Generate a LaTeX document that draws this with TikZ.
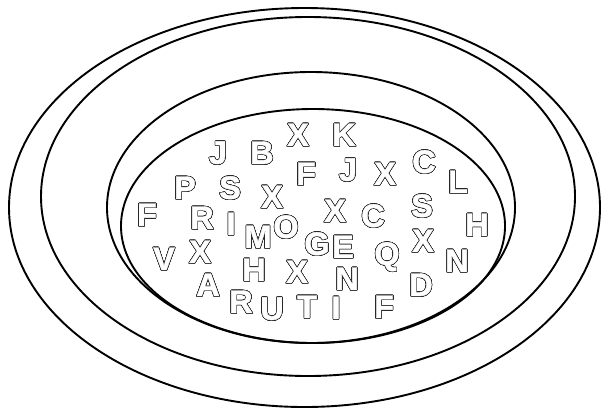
\documentclass[tikz,border=0pt]{standalone}
\usepackage{fontspec}
\setmainfont{Liberation Sans}[BoldFeatures={FakeBold=1.2}]
\usepackage{contour}
\contourlength{0.6pt}
\contournumber{20}
\newcommand\olet[1]{\contour{black!85}{\textcolor{white}{#1}}}
\begin{document}
\begin{tikzpicture}[x=1pt,y=-1pt,
  ring/.style={draw=black,line width=1.9pt},
  lt/.style={font=\fontsize{32.5}{32.5}\selectfont\bfseries, inner sep=0pt}]
\useasboundingbox (0,0) rectangle (601,410);
\draw[ring] (304.5,207.5) ellipse [x radius=295.5pt, y radius=199.5pt];
\draw[ring] (308,196.5) ellipse [x radius=267pt, y radius=179.5pt];
\draw[ring] (311,207.5) ellipse [x radius=204pt, y radius=135.5pt];
\draw[ring] (313,226) ellipse [x radius=192pt, y radius=117pt];
\node[lt] (l01) at (218,153) {\olet{J}};
\node[lt] (l02) at (262,153) {\olet{B}};
\node[lt] (l03) at (298,135) {\olet{X}};
\node[lt] (l04) at (344,135) {\olet{K}};
\node[lt] (l05) at (185,188) {\olet{P}};
\node[lt] (l06) at (230,188) {\olet{S}};
\node[lt] (l07) at (272,197) {\olet{X}};
\node[lt] (l08) at (147,215) {\olet{F}};
\node[lt] (l09) at (202,218) {\olet{R}};
\node[lt] (l10) at (231,224) {\olet{I}};
\node[lt] (l11) at (258,237) {\olet{M}};
\node[lt] (l12) at (286,227) {\olet{O}};
\node[lt] (l13) at (317,244) {\olet{G}};
\node[lt] (l14) at (343,247) {\olet{E}};
\node[lt] (l15) at (335,211) {\olet{X}};
\node[lt] (l16) at (373,216) {\olet{C}};
\node[lt] (l17) at (306,174) {\olet{F}};
\node[lt] (l18) at (348,170) {\olet{J}};
\node[lt] (l19) at (385,174) {\olet{X}};
\node[lt] (l20) at (424,162) {\olet{C}};
\node[lt] (l21) at (458,182) {\olet{L}};
\node[lt] (l22) at (422,206) {\olet{S}};
\node[lt] (l23) at (477,225) {\olet{H}};
\node[lt] (l24) at (423,241) {\olet{X}};
\node[lt] (l25) at (457,261) {\olet{N}};
\node[lt] (l26) at (387,257) {\olet{Q}};
\node[lt] (l27) at (347,279) {\olet{N}};
\node[lt] (l28) at (421,285) {\olet{D}};
\node[lt] (l29) at (384,307) {\olet{F}};
\node[lt] (l30) at (336,308) {\olet{I}};
\node[lt] (l31) at (307,307) {\olet{T}};
\node[lt] (l32) at (272,309) {\olet{U}};
\node[lt] (l33) at (241,302) {\olet{R}};
\node[lt] (l34) at (208,285) {\olet{A}};
\node[lt] (l35) at (254,270) {\olet{H}};
\node[lt] (l36) at (297,272) {\olet{X}};
\node[lt] (l37) at (200,252) {\olet{X}};
\node[lt] (l38) at (164,259) {\olet{V}};
\end{tikzpicture}
\end{document}
